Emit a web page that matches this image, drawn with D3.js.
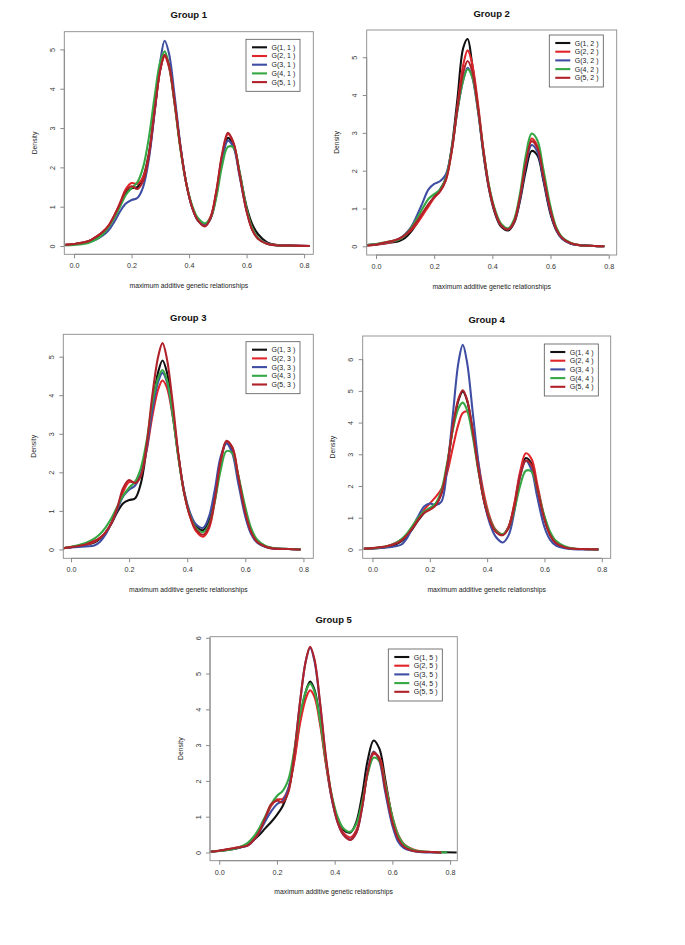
<!DOCTYPE html>
<html><head><meta charset="utf-8">
<script src="https://cdn.jsdelivr.net/npm/d3@7"></script>
<style>body{margin:0;background:#fff}svg{display:block}</style>
</head><body>
<svg id="chart" width="685" height="945"></svg>
<script>
// ---------- DATA ----------
const groupTitles = ["Group 1", "Group 2", "Group 3", "Group 4", "Group 5"];
const xAxisLabel = "maximum additive genetic relationships";
const yAxisLabel = "Density";
const xTicks = [0.0, 0.2, 0.4, 0.6, 0.8];
const yTicksByGroup = [[0,1,2,3,4,5],[0,1,2,3,4,5],[0,1,2,3,4,5],[0,1,2,3,4,5,6],[0,1,2,3,4,5,6]];
// shared evaluation grid of the density estimates; final point = tail end of each series
const xGrid = [-0.03, 0.0, 0.05, 0.08, 0.10, 0.12, 0.14, 0.16, 0.18, 0.20, 0.22, 0.24, 0.26, 0.28, 0.30, 0.315, 0.33, 0.35, 0.37, 0.39, 0.41, 0.43, 0.455, 0.475, 0.495, 0.515, 0.535, 0.555, 0.575, 0.60, 0.62, 0.64, 0.67, 0.70, 0.75];
const tailEnds = [
  [0.82, 0.82, 0.82, 0.82, 0.82],
  [0.785, 0.785, 0.785, 0.785, 0.785],
  [0.79, 0.79, 0.79, 0.79, 0.79],
  [0.788, 0.788, 0.788, 0.788, 0.788],
  [0.823, 0.77, 0.77, 0.79, 0.77]
];

const group1 = [
  [0.03,0.05,0.12,0.24,0.35,0.5,0.75,1.05,1.35,1.47,1.5,1.75,2.35,3.45,4.5,4.86,4.6,3.65,2.5,1.6,1.0,0.66,0.52,0.72,1.35,2.25,2.75,2.55,1.9,1.0,0.55,0.3,0.1,0.03,0.01,0],
  [0.03,0.05,0.12,0.25,0.36,0.52,0.78,1.1,1.45,1.6,1.58,1.75,2.3,3.4,4.5,4.82,4.55,3.6,2.5,1.6,1.0,0.68,0.55,0.75,1.4,2.3,2.85,2.6,1.85,0.9,0.42,0.2,0.07,0.03,0.01,0],
  [0.02,0.04,0.1,0.18,0.27,0.4,0.62,0.88,1.08,1.17,1.22,1.5,2.2,3.4,4.7,5.22,4.9,3.8,2.55,1.6,1.0,0.66,0.52,0.7,1.3,2.2,2.68,2.5,1.8,0.9,0.42,0.2,0.07,0.02,0.01,0],
  [0.02,0.03,0.08,0.18,0.3,0.48,0.72,1.0,1.3,1.48,1.62,2.0,2.75,3.8,4.7,4.95,4.6,3.6,2.45,1.6,1.05,0.72,0.58,0.72,1.25,2.05,2.52,2.5,1.9,0.95,0.45,0.2,0.06,0.02,0.005,0],
  [0.03,0.05,0.12,0.25,0.36,0.52,0.78,1.08,1.4,1.52,1.45,1.65,2.3,3.45,4.5,4.86,4.6,3.65,2.5,1.6,1.0,0.66,0.5,0.72,1.4,2.35,2.88,2.62,1.85,0.88,0.4,0.18,0.06,0.02,0.01,0]
];
const group2 = [
  [0.03,0.05,0.1,0.14,0.22,0.38,0.6,0.85,1.1,1.3,1.5,1.8,2.6,3.9,5.25,5.48,4.85,3.7,2.4,1.45,0.85,0.52,0.42,0.62,1.2,2.0,2.52,2.4,1.75,0.85,0.42,0.2,0.07,0.03,0.01,0],
  [0.02,0.04,0.1,0.2,0.3,0.42,0.6,0.82,1.05,1.28,1.45,1.75,2.5,3.7,4.8,5.18,4.85,3.8,2.5,1.5,0.9,0.55,0.45,0.65,1.3,2.25,2.85,2.65,1.9,0.95,0.45,0.22,0.08,0.03,0.01,0],
  [0.03,0.05,0.12,0.2,0.32,0.5,0.8,1.15,1.5,1.65,1.72,1.9,2.55,3.6,4.4,4.72,4.5,3.6,2.45,1.5,0.9,0.56,0.45,0.66,1.25,2.15,2.68,2.5,1.8,0.9,0.43,0.2,0.07,0.03,0.01,0],
  [0.03,0.06,0.13,0.18,0.3,0.48,0.72,1.0,1.25,1.38,1.5,1.8,2.55,3.6,4.4,4.68,4.5,3.65,2.5,1.55,0.95,0.6,0.48,0.72,1.4,2.4,2.98,2.8,2.05,1.05,0.5,0.24,0.09,0.03,0.01,0],
  [0.02,0.05,0.13,0.2,0.3,0.45,0.65,0.88,1.1,1.3,1.45,1.75,2.5,3.65,4.6,4.9,4.65,3.7,2.5,1.5,0.9,0.56,0.45,0.66,1.3,2.2,2.78,2.6,1.88,0.95,0.45,0.22,0.08,0.03,0.01,0]
];
const group3 = [
  [0.03,0.06,0.12,0.18,0.28,0.45,0.68,0.98,1.2,1.28,1.32,1.7,2.6,3.7,4.6,4.9,4.6,3.6,2.4,1.45,0.9,0.6,0.5,0.75,1.4,2.3,2.78,2.6,1.9,0.95,0.45,0.22,0.08,0.03,0.01,0],
  [0.03,0.06,0.12,0.2,0.3,0.45,0.7,1.05,1.5,1.75,1.75,1.95,2.55,3.45,4.15,4.38,4.2,3.45,2.4,1.45,0.85,0.48,0.33,0.55,1.25,2.25,2.78,2.65,1.95,0.95,0.45,0.2,0.07,0.02,0.01,0],
  [0.03,0.05,0.08,0.1,0.2,0.4,0.7,1.05,1.38,1.55,1.65,1.95,2.6,3.6,4.35,4.58,4.35,3.5,2.4,1.5,0.95,0.65,0.56,0.85,1.55,2.4,2.75,2.5,1.75,0.85,0.4,0.18,0.06,0.02,0.01,0],
  [0.03,0.07,0.17,0.28,0.4,0.58,0.82,1.12,1.4,1.6,1.75,2.1,2.8,3.8,4.45,4.65,4.4,3.5,2.35,1.45,0.88,0.56,0.45,0.65,1.25,2.05,2.55,2.5,1.95,1.1,0.55,0.26,0.09,0.03,0.01,0],
  [0.03,0.06,0.13,0.22,0.3,0.45,0.7,1.1,1.6,1.8,1.72,1.9,2.7,4.0,5.0,5.35,4.95,3.8,2.45,1.45,0.85,0.52,0.38,0.6,1.3,2.3,2.82,2.65,1.92,0.95,0.45,0.2,0.07,0.02,0.01,0]
];
const group4 = [
  [0.02,0.03,0.08,0.15,0.25,0.42,0.65,0.92,1.15,1.3,1.42,1.75,2.6,3.8,4.7,4.98,4.7,3.7,2.5,1.5,0.9,0.58,0.47,0.72,1.4,2.35,2.88,2.7,1.95,0.95,0.45,0.2,0.07,0.02,0.01,0],
  [0.02,0.04,0.1,0.2,0.3,0.45,0.68,0.95,1.25,1.45,1.65,1.9,2.4,3.2,3.95,4.3,4.35,3.75,2.7,1.7,1.0,0.62,0.48,0.72,1.45,2.45,3.03,2.85,2.05,1.0,0.48,0.22,0.08,0.03,0.01,0],
  [0.02,0.03,0.06,0.1,0.15,0.35,0.7,1.05,1.35,1.45,1.4,1.5,2.5,4.2,5.9,6.45,5.9,4.3,2.7,1.5,0.8,0.4,0.22,0.45,1.2,2.3,2.8,2.5,1.65,0.7,0.3,0.12,0.04,0.01,0.0,0],
  [0.02,0.04,0.1,0.2,0.32,0.5,0.75,1.0,1.2,1.3,1.45,1.85,2.7,3.75,4.45,4.63,4.4,3.55,2.45,1.55,0.95,0.6,0.48,0.68,1.25,2.0,2.48,2.45,1.9,1.05,0.55,0.27,0.1,0.03,0.01,0],
  [0.02,0.04,0.1,0.18,0.28,0.45,0.68,0.95,1.15,1.25,1.38,1.75,2.6,3.85,4.75,5.02,4.72,3.72,2.5,1.5,0.9,0.56,0.45,0.68,1.35,2.3,2.8,2.65,1.92,0.95,0.45,0.2,0.07,0.02,0.01,0]
];
const group5 = [
  [0.02,0.04,0.1,0.16,0.22,0.35,0.5,0.68,0.85,1.05,1.3,1.75,2.6,3.7,4.5,4.78,4.55,3.65,2.5,1.55,0.95,0.63,0.56,0.85,1.6,2.6,3.13,2.9,2.05,0.95,0.4,0.17,0.05,0.02,0.01,0],
  [0.02,0.05,0.12,0.17,0.22,0.38,0.62,0.95,1.3,1.48,1.5,1.8,2.55,3.6,4.3,4.53,4.35,3.55,2.45,1.5,0.9,0.55,0.42,0.62,1.3,2.25,2.75,2.65,1.95,1.0,0.5,0.24,0.09,0.03,0.01,0],
  [0.02,0.05,0.1,0.15,0.2,0.35,0.58,0.88,1.15,1.35,1.45,1.8,2.8,4.2,5.35,5.72,5.35,4.1,2.6,1.5,0.85,0.5,0.36,0.55,1.25,2.3,2.82,2.55,1.7,0.75,0.3,0.12,0.04,0.01,0.0,0],
  [0.02,0.04,0.1,0.18,0.28,0.45,0.7,1.02,1.35,1.58,1.72,2.05,2.85,3.85,4.5,4.72,4.5,3.65,2.55,1.6,1.0,0.68,0.58,0.8,1.4,2.2,2.65,2.55,1.9,1.0,0.48,0.22,0.08,0.03,0.01,0],
  [0.02,0.05,0.12,0.16,0.2,0.35,0.6,0.98,1.35,1.45,1.4,1.7,2.75,4.2,5.35,5.75,5.4,4.15,2.65,1.55,0.85,0.5,0.35,0.55,1.25,2.28,2.8,2.6,1.8,0.85,0.38,0.16,0.05,0.02,0.01,0]
];
const groups = [group1, group2, group3, group4, group5];
const seriesColors = ["#111111", "#E0262B", "#3F4EA3", "#35A845", "#B0222A"];

// ---------- LAYOUT ----------
const panels = [
  {l:64.3, r:313.3, t:31.7, b:254.3, xd:[-0.034,0.832], yd:[-0.21,5.45], lg:[246,39.3]},
  {l:366.7, r:616.7, t:30, b:255, xd:[-0.032,0.8275], yd:[-0.23,5.72], lg:[549.3,35]},
  {l:63.3, r:313.3, t:334.3, b:558.3, xd:[-0.0265,0.834], yd:[-0.23,5.58], lg:[246,341.7]},
  {l:362.7, r:610.7, t:336, b:558.3, xd:[-0.034,0.831], yd:[-0.28,6.73], lg:[544.3,344]},
  {l:210, r:457.3, t:636.7, b:860.7, xd:[-0.032,0.825], yd:[-0.23,6.03], lg:[388.3,649]}
];

const svg = d3.select("#chart");
const font = "'Liberation Sans', Arial, Helvetica, sans-serif";

panels.forEach((p, gi) => {
  const x = d3.scaleLinear().domain(p.xd).range([p.l, p.r]);
  const y = d3.scaleLinear().domain(p.yd).range([p.b, p.t]);
  const g = svg.append("g");
  const cid = "clip" + gi;
  g.append("clipPath").attr("id", cid).append("rect")
    .attr("x", p.l).attr("y", p.t).attr("width", p.r - p.l).attr("height", p.b - p.t);

  groups[gi].forEach((vals, si) => {
    const xs = xGrid.concat([tailEnds[gi][si]]);
    const line = d3.line().x((d, i) => x(xs[i])).y(d => y(d)).curve(d3.curveCatmullRom.alpha(0.5));
    g.append("path").attr("d", line(vals)).attr("fill", "none")
      .attr("stroke", seriesColors[si]).attr("stroke-width", 2.1)
      .attr("stroke-linejoin", "round").attr("clip-path", `url(#${cid})`);
  });

  // box
  g.append("rect").attr("x", p.l).attr("y", p.t).attr("width", p.r - p.l).attr("height", p.b - p.t)
    .attr("fill", "none").attr("stroke", "#8a8a8a").attr("stroke-width", 0.9);

  // x axis
  const xa = g.append("g").attr("transform", `translate(0,${p.b})`)
    .call(d3.axisBottom(x).tickValues(xTicks).tickFormat(d3.format(".1f")).tickSize(4).tickPadding(5));
  xa.select(".domain").attr("stroke", "#8a8a8a").attr("d", `M${x(xTicks[0])},0H${x(xTicks[xTicks.length-1])}`);
  xa.selectAll(".tick line").attr("stroke", "#8a8a8a");
  xa.selectAll("text").attr("font-family", font).attr("font-size", 7.2).attr("fill", "#333");

  // y axis
  const yt = yTicksByGroup[gi];
  const ya = g.append("g").attr("transform", `translate(${p.l},0)`)
    .call(d3.axisLeft(y).tickValues(yt).tickFormat(d3.format("d")).tickSize(4).tickPadding(0));
  ya.select(".domain").attr("stroke", "#8a8a8a").attr("d", `M0,${y(yt[0])}V${y(yt[yt.length-1])}`);
  ya.selectAll(".tick line").attr("stroke", "#8a8a8a");
  ya.selectAll(".tick text").attr("font-family", font).attr("font-size", 7.2).attr("fill", "#333")
    .attr("text-anchor", "middle").attr("dominant-baseline", "central").attr("dy", 0)
    .attr("transform", "rotate(-90)").attr("x", 0).attr("y", -12);

  // title
  g.append("text").attr("x", (p.l + p.r) / 2).attr("y", p.t - 17).attr("text-anchor", "middle")
    .attr("dominant-baseline", "central").attr("font-family", font).attr("font-weight", "bold")
    .attr("font-size", 9.5).attr("fill", "#111").text(groupTitles[gi]);
  // axis labels
  g.append("text").attr("x", (p.l + p.r) / 2).attr("y", p.b + 31).attr("text-anchor", "middle")
    .attr("dominant-baseline", "central").attr("font-family", font).attr("font-size", 6.8)
    .attr("fill", "#222").text(xAxisLabel);
  g.append("text").attr("transform", `translate(${p.l - 30},${(p.t + p.b) / 2}) rotate(-90)`)
    .attr("text-anchor", "middle").attr("dominant-baseline", "central").attr("font-family", font)
    .attr("font-size", 6.8).attr("fill", "#222").text(yAxisLabel);

  // legend
  const lw = 54, lh = 52;
  const lg = g.append("g").attr("transform", `translate(${p.lg[0]},${p.lg[1]})`);
  lg.append("rect").attr("width", lw).attr("height", lh).attr("fill", "#fff")
    .attr("stroke", "#555").attr("stroke-width", 0.8);
  groups[gi].forEach((vals, si) => {
    const yy = 8 + si * 8.7;
    lg.append("line").attr("x1", 6).attr("x2", 21).attr("y1", yy).attr("y2", yy)
      .attr("stroke", seriesColors[si]).attr("stroke-width", 2.1);
    lg.append("text").attr("x", 25.5).attr("y", yy).attr("dominant-baseline", "central")
      .attr("font-family", font).attr("font-size", 7).attr("fill", "#222")
      .text(`G(${si + 1}, ${gi + 1} )`);
  });
});
</script>
</body></html>
